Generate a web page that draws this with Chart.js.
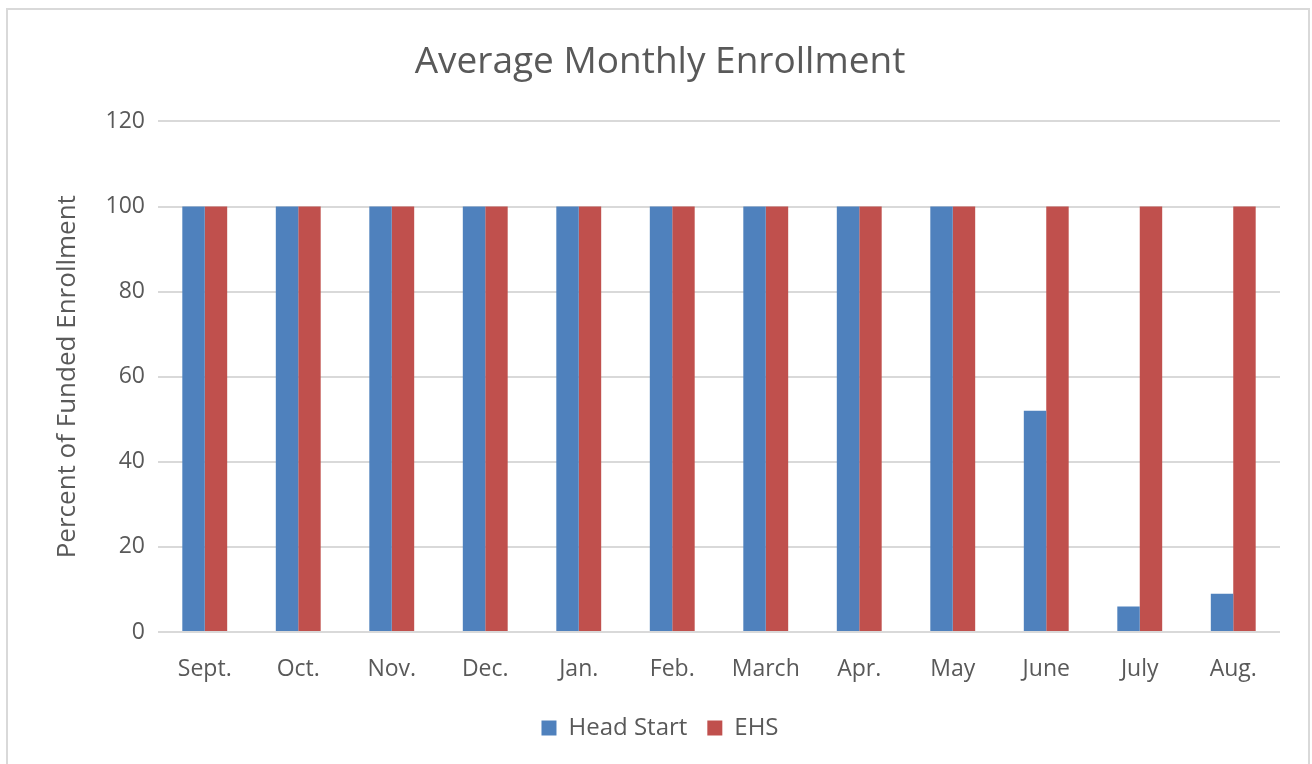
<!DOCTYPE html>
<html>
<head>
<meta charset="utf-8">
<script src="https://cdn.jsdelivr.net/npm/chart.js@4"></script>
<style>
  html, body { margin: 0; padding: 0; background: #fff; overflow: hidden; }
  #wrap { position: relative; width: 1312px; height: 764px; }
  #frame { position: absolute; left: 6px; top: 8px; width: 1304px; height: 800px; border: 2px solid #D9D9D9; box-sizing: border-box; }
  canvas { position: absolute; left: 0; top: 0; }
</style>
</head>
<body>
<div id="wrap">
  <div id="frame"></div>
  <canvas id="c" width="1312" height="764"></canvas>
</div>
<script>
const categories = ["Sept.", "Oct.", "Nov.", "Dec.", "Jan.", "Feb.", "March", "Apr.", "May", "June", "July", "Aug."];
const headStart = [100, 100, 100, 100, 100, 100, 100, 100, 100, 52, 6, 9];
const ehs = [100, 100, 100, 100, 100, 100, 100, 100, 100, 100, 100, 100];
const yTicks = [0, 20, 40, 60, 80, 100, 120];

const FONT = "'Open Sans', sans-serif";
const TXT = "#595959";

new Chart(document.getElementById('c'), {
  type: 'bar',
  data: {
    labels: categories,
    datasets: [
      { label: "Head Start", data: headStart, backgroundColor: "#4F81BD", borderWidth: 0, categoryPercentage: 0.48, barPercentage: 1.0 },
      { label: "EHS", data: ehs, backgroundColor: "#C0504D", borderWidth: 0, categoryPercentage: 0.48, barPercentage: 1.0 }
    ]
  },
  options: {
    responsive: false,
    animation: false,
    layout: { padding: { left: 40, right: 32, top: 0, bottom: 14 } },
    plugins: {
      title: {
        display: true,
        text: "Average Monthly Enrollment",
        color: TXT,
        font: { family: FONT, size: 37, weight: 'normal' },
        padding: { top: 40, bottom: 37 }
      },
      legend: {
        display: true,
        position: 'bottom',
        labels: {
          color: TXT,
          font: { family: FONT, size: 24 },
          boxWidth: 15,
          boxHeight: 15,
          padding: 20
        }
      },
      tooltip: { enabled: false }
    },
    scales: {
      x: {
        grid: { display: false },
        border: { display: false },
        ticks: { color: TXT, font: { family: FONT, size: 23 }, padding: 16, maxRotation: 0 },
        afterFit: (s) => { s.height = 64; }
      },
      y: {
        min: 0,
        max: 120,
        afterBuildTicks: (s) => { s.ticks = yTicks.map(v => ({ value: v })); },
        grid: { color: "#D9D9D9", lineWidth: 2, drawTicks: false },
        border: { display: false },
        ticks: { color: TXT, font: { family: FONT, size: 23 }, padding: 13 },
        title: {
          display: true,
          text: "Percent of Funded Enrollment",
          color: TXT,
          font: { family: FONT, size: 26, weight: 'normal' },
          padding: { top: 12, bottom: 0 }
        },
        afterFit: (s) => { s.width = 118; }
      }
    }
  }
});
</script>
</body>
</html>
